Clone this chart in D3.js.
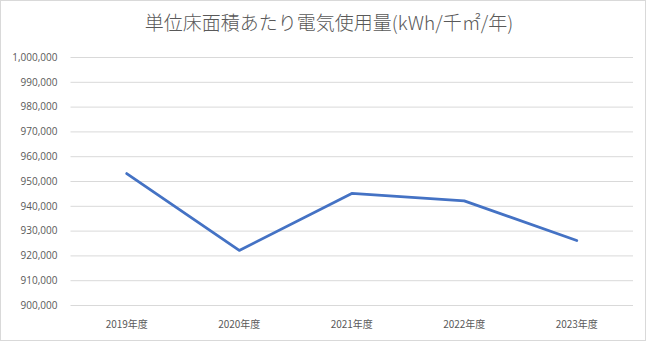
<!DOCTYPE html>
<html><head><meta charset="utf-8">
<script src="https://cdn.jsdelivr.net/npm/d3@7"></script>
<style>body{margin:0;background:#fff;} svg{display:block;}</style>
</head><body>
<script>
const title = "単位床面積あたり電気使用量(kWh/千㎡/年)";
const categories = ["2019年度","2020年度","2021年度","2022年度","2023年度"];
const values = [953000, 922000, 945000, 942000, 926000];
const yTicks = [900000,910000,920000,930000,940000,950000,960000,970000,980000,990000,1000000];

(function(){
const W = 647, H = 342;
const svg = d3.select("body").append("svg").attr("width", W).attr("height", H);
svg.append("rect").attr("x",0.5).attr("y",0.5).attr("width",645).attr("height",340)
  .attr("fill","#fff").attr("stroke","#d9d9d9");

const mLeft = 70.5, mRight = 633, mTop = 57, mBottom = 305;
const x = d3.scaleBand().domain(categories).range([mLeft, mRight]);
const y = d3.scaleLinear().domain([900000, 1000000]).range([mBottom, mTop]);

const font = "'Noto Sans CJK JP', 'Noto Sans', sans-serif";
svg.append("text").attr("x", 329).attr("y", 30).attr("text-anchor","middle")
  .attr("font-family", font).attr("font-size", 19).attr("font-weight", 300).attr("fill","#595959").text(title);

const yAxis = svg.append("g").attr("transform",`translate(${mLeft},0)`)
  .call(d3.axisLeft(y).tickValues(yTicks).tickSize(-(mRight-mLeft)).tickSizeOuter(0).tickPadding(13)
    .tickFormat(d3.format(",")));
yAxis.select(".domain").remove();
yAxis.selectAll(".tick line").attr("stroke","#d9d9d9");
yAxis.selectAll(".tick text").attr("font-family","'Open Sans','Noto Sans',sans-serif").attr("font-size",10).attr("fill","#595959");

const xAxis = svg.append("g").attr("transform",`translate(0,${mBottom})`)
  .call(d3.axisBottom(x).tickSize(0).tickPadding(16));
xAxis.select(".domain").remove();
xAxis.selectAll(".tick text").attr("font-family","'Noto Sans CJK JP',sans-serif").attr("font-size",10).attr("fill","#595959");

const line = d3.line().x((d,i)=>x(categories[i]) + x.bandwidth()/2).y(d=>y(d));
svg.append("path").datum(values).attr("d", line).attr("fill","none")
  .attr("stroke","#4472c4").attr("stroke-width",2.8).attr("stroke-linejoin","round").attr("stroke-linecap","round");
})();
</script>
</body></html>
